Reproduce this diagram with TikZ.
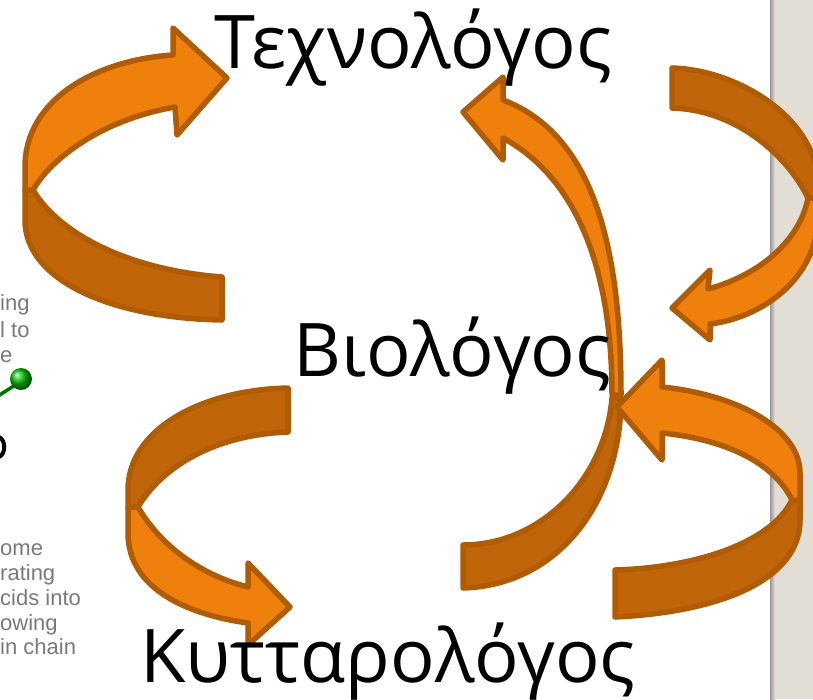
\documentclass[tikz,border=0pt]{standalone}
\usepackage{fontspec}
\setmainfont{Open Sans}
\newfontfamily\bgfont{Liberation Sans}
\definecolor{lightor}{HTML}{F0800C}
\definecolor{darkor}{HTML}{C0650A}
\definecolor{edgeor}{HTML}{B05C04}
\definecolor{stripc}{HTML}{E3DED5}
\definecolor{bgtext}{HTML}{7A7A7A}
\begin{document}
\begin{tikzpicture}[x=1pt,y=-1pt,
 front/.style={fill=lightor,draw=edgeor,line width=5.5pt,line join=round},
 back/.style={fill=darkor,draw=edgeor,line width=5.5pt,line join=round},
 word/.style={font=\fontsize{74}{80}\selectfont,inner sep=0pt,anchor=base west},
 bgtxt/.style={font=\bgfont\fontsize{22}{26}\selectfont,text=bgtext,inner sep=0pt,anchor=base west}]
\useasboundingbox (0,0) rectangle (813,699);
\fill[white] (0,0) rectangle (813,699);
\fill[stripc] (771,0) rectangle (813,699);
\shade[left color=gray!80, right color=stripc] (770,0) rectangle (775,699);

% background fragments
\node[bgtxt] (f1) at (0,310) {ing};
\node[bgtxt] (f2) at (0,337) {l to};
\node[bgtxt] (f3) at (0,362) {e};
\node[bgtxt] (f4) at (0,555) {ome};
\node[bgtxt] (f5) at (0,580) {rating};
\node[bgtxt] (f6) at (0,605) {cids into};
\node[bgtxt] (f7) at (0,630) {owing};
\node[bgtxt] (f8) at (0,654) {in chain};
\draw[green!45!black, line width=3.5pt] (20,382) -- (-2,396);
\shade[ball color=green!75!black] (21,379) circle (11);
\draw[black, line width=4pt] (-1,437) .. controls (6,440) and (6,454) .. (-1,457);

\begin{scope}
\clip (0,0) rectangle (813,699);
% arrow 1 (top left)
\draw[back] (222,277) .. controls (130,270) and (60,235) .. (33,190) -- (25,190) -- (25,220) .. controls (25,280) and (110,318) .. (222,320) -- cycle;
\draw[front] (33,190) -- (25,190) -- (25,167) .. controls (25,100) and (95,60) .. (173,55) -- (173,28) -- (227,78) -- (177,135) -- (175,107) .. controls (100,120) and (50,160) .. (33,190) -- cycle;
% arrow 4 (bottom left)
\draw[back] (288,388) .. controls (200,390) and (128,430) .. (128,490) -- (128,507) -- (138,507) .. controls (160,470) and (210,435) .. (288,432) -- cycle;
\draw[front] (138,507) -- (128,507) -- (128,533) .. controls (128,590) and (190,615) .. (248,623) -- (248,645) -- (290,607) -- (248,563) -- (248,587) .. controls (200,575) and (160,545) .. (138,507) -- cycle;
% arrow 3 (long, centre)
\draw[back] (612,398) .. controls (605,480) and (540,545) .. (463,545) -- (463,588) .. controls (560,585) and (621,500) .. (621,398) -- cycle;
\draw[front] (503,100) .. controls (595,135) and (621,250) .. (621,395) -- (612,395) .. controls (612,275) and (580,180) .. (503,138) -- (503,160) -- (463,112) -- (503,77) -- cycle;
% arrow 2 (top right)
\draw[back] (672,68) .. controls (740,70) and (818,120) .. (818,185) -- (818,198) -- (808,198) .. controls (790,160) and (740,110) .. (672,108) -- cycle;
\draw[front] (808,198) -- (818,198) -- (818,215) .. controls (818,280) and (760,318) .. (710,324) -- (710,340) -- (672,308) -- (710,270) -- (708,289) .. controls (760,275) and (800,240) .. (808,198) -- cycle;
% arrow 5 (bottom right)
\draw[back] (792,500) .. controls (770,545) and (690,568) .. (615,570) -- (615,617) .. controls (720,612) and (800,580) .. (800,520) -- (800,500) -- cycle;
\draw[front] (662,387) .. controls (740,395) and (800,430) .. (800,473) -- (800,500) -- (792,500) .. controls (775,465) and (730,440) .. (662,433) -- (662,460) -- (617,407) -- (662,360) -- cycle;
\end{scope}

\node[word] (tech) at (214,68) {Τεχνολόγος};
\node[word] (bio) at (293,376) {Βιολόγος};
\node[word] (cell) at (140,682) {Κυτταρολόγος};
\end{tikzpicture}
\end{document}
